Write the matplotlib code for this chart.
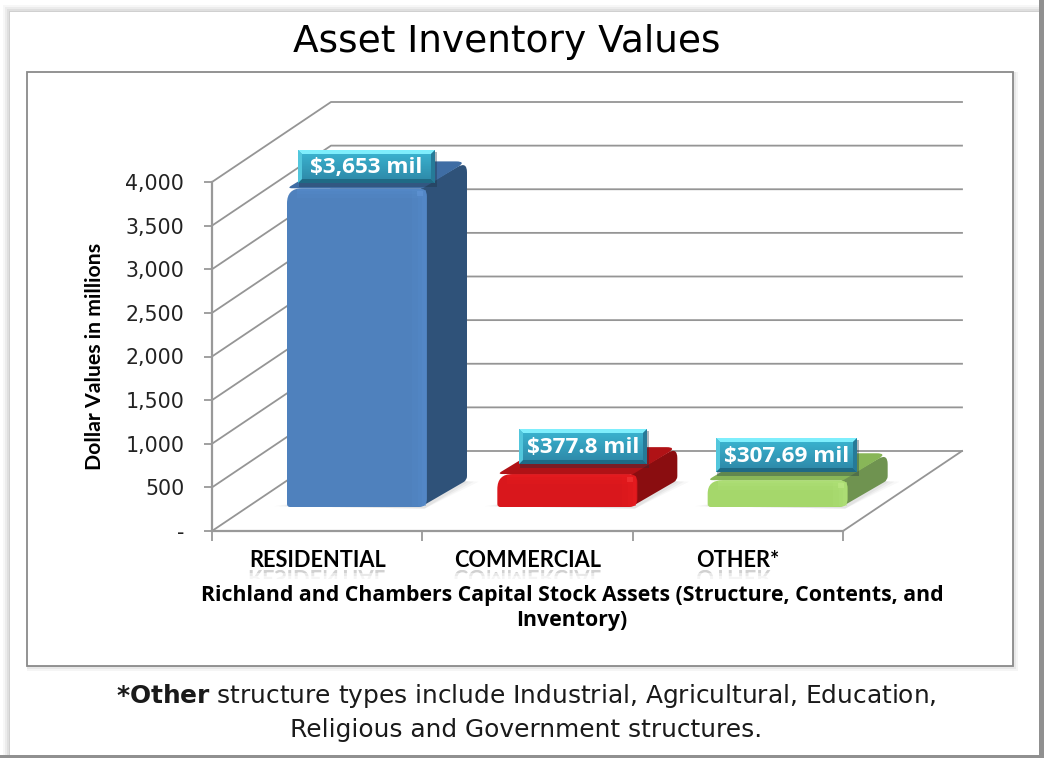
import matplotlib
matplotlib.use("Agg")
import matplotlib.pyplot as plt
import numpy as np
from matplotlib.patches import Polygon, Rectangle, PathPatch
from matplotlib.path import Path
from matplotlib.textpath import TextPath
from matplotlib.font_manager import FontProperties
from matplotlib.transforms import Affine2D

categories = ["RESIDENTIAL", "COMMERCIAL", "OTHER*"]
values = [3653, 377.8, 307.69]
value_labels = ["$3,653 mil", "$377.8 mil", "$307.69 mil"]
y_ticks = [0, 500, 1000, 1500, 2000, 2500, 3000, 3500, 4000]
y_tick_labels = ["-", "500", "1,000", "1,500", "2,000", "2,500", "3,000", "3,500", "4,000"]

front_colors = ["#4f81bd", "#d9171c", "#a5d76b"]
top_colors = ["#3f6da4", "#b01216", "#88b658"]
side_colors = ["#2f5279", "#8a0d10", "#6f9350"]
edge_colors = ["#5a90d0", "#f01e22", "#b6e67e"]
corner_colors = ["#6a9fe0", "#ff4a4a", "#c8f090"]

W, H = 1044, 758
PX_X = (843 - 212) / 3.0  # pixels per category
PX_Y = (531 - 182) / 4000.0  # pixels per dollar million

fig = plt.figure(figsize=(W / 100, H / 100), dpi=100, facecolor="white")

# overlay in pixels, for the frame
bg = fig.add_axes([0, 0, 1, 1])
bg.set_xlim(0, W)
bg.set_ylim(H, 0)
bg.axis("off")
for k, a in zip([7, 5, 3, 1], [0.05, 0.07, 0.09, 0.12]):
    bg.add_patch(Rectangle((10 - k, 12 - k), 1030 + k, 744 + k, color="#666666", alpha=a, lw=0))
bg.add_patch(Rectangle((10, 12), 1030, 744, color="white", lw=0))
bg.add_patch(Rectangle((1039, 0), 5, H, color="#909090", lw=0))
bg.add_patch(Rectangle((0, 755), 1044, 3, color="#909090", lw=0))
for k, a in zip([5, 3, 1], [0.06, 0.08, 0.10]):
    bg.add_patch(Rectangle((27, 72), 986 + k, 594 + k, color="#555555", alpha=a, lw=0))
bg.add_patch(Rectangle((27, 72), 986, 594, facecolor="white", edgecolor="#8a8a8a", lw=1.3))

# main axes is the front plane of the 3d box
ax = fig.add_axes([212 / W, 1 - 531 / H, (843 - 212) / W, (531 - 182) / H])
ax.patch.set_alpha(0)
ax.set_xlim(0, 3)
ax.set_ylim(0, 4000)
for s in ["top", "right"]:
    ax.spines[s].set_visible(False)
for s in ["left", "bottom"]:
    ax.spines[s].set_color("#999999")
    ax.spines[s].set_linewidth(1.6)

DX = 119 / PX_X  # depth offset, category units
DY = 80 / PX_Y  # depth offset, value units


def prj(x, y, d):
    return (x + d * DX, y + d * DY)


def round_poly(points, radii):
    # closed polygon in data units with corners rounded by a radius in pixels
    pts = np.array(points, dtype=float) * [PX_X, PX_Y]
    verts = []
    codes = []
    n = len(pts)
    for i in range(n):
        p = pts[i]
        a = pts[i - 1] - p
        b = pts[(i + 1) % n] - p
        r = radii[i]
        p0 = p + a / np.hypot(*a) * min(r, np.hypot(*a) / 2)
        p1 = p + b / np.hypot(*b) * min(r, np.hypot(*b) / 2)
        verts.append(p0)
        codes.append(Path.MOVETO if i == 0 else Path.LINETO)
        verts.append(p)
        codes.append(Path.CURVE3)
        verts.append(p1)
        codes.append(Path.CURVE3)
    verts.append(verts[0])
    codes.append(Path.CLOSEPOLY)
    return Path(np.array(verts) / [PX_X, PX_Y], codes)


# walls
for t in y_ticks:
    p0 = prj(0, t, 0)
    p1 = prj(0, t, 1)
    p2 = prj(3, t, 1)
    ax.plot([p0[0], p1[0], p2[0]], [p0[1], p1[1], p2[1]], color="#959595", lw=1.3, clip_on=False, zorder=1)
fl = prj(3, 0, 0)
fr = prj(3, 0, 1)
ax.plot([fl[0], fr[0]], [fl[1], fr[1]], color="#959595", lw=1.3, clip_on=False, zorder=1)

BAR_W = 140 / PX_X
D0 = 24 / 80.0
D1 = D0 + 40 / 119.0

for i, v in enumerate(values):
    x0 = i + 75 / PX_X - D0 * DX
    x1 = x0 + BAR_W
    fx, fy = prj(x0, 0, D0)
    # soft shadow on the floor
    for k, a in zip([14, 9, 4], [0.05, 0.07, 0.09]):
        sh = [prj(x0 - k / PX_X, 0, D0 + 0.01), prj(x1, 0, D0 - 0.02), prj(x1 + k / PX_X, 0, D1 - 0.02), prj(x1 - 0.1, 0, D1)]
        ax.add_patch(Polygon(sh, closed=True, facecolor="#777777", alpha=a, lw=0, clip_on=False, zorder=2))
    # side
    side = [prj(x1 - 0.03, 0, D0), prj(x1, 0, D1), prj(x1, v, D1), prj(x1 - 0.03, v, D0)]
    ax.add_patch(PathPatch(round_poly(side, [3, 4, 11, 1]), facecolor=side_colors[i], lw=0, clip_on=False, zorder=3))
    # top
    top = [prj(x0, v, D0), prj(x1 - 0.02, v, D0), prj(x1, v, D1), prj(x0 + 0.02, v, D1)]
    ax.add_patch(PathPatch(round_poly(top, [5, 1, 11, 8]), facecolor=top_colors[i], lw=0, clip_on=False, zorder=3))
    # front
    tx = fx + BAR_W
    ty = fy + v
    front = [(fx, fy), (tx, fy), (tx, ty), (fx, ty)]
    ax.add_patch(PathPatch(round_poly(front, [3, 8, 8, 15]), facecolor=front_colors[i], lw=0, clip_on=False, zorder=4))
    # bevels of the front, right edge, top edge and the corner
    band = 15 / PX_X
    bev = 10 / PX_Y
    for k, a in zip([1.0, 0.6, 0.3], [0.16, 0.2, 0.25]):
        ax.add_patch(Rectangle((tx - band * k, fy + 1 / PX_Y), band * k - 1 / PX_X, v - 3 / PX_Y, facecolor=edge_colors[i], alpha=a, lw=0, clip_on=False, zorder=5))
    for k, a in zip([1.0, 0.6, 0.3], [0.16, 0.2, 0.25]):
        ax.add_patch(Rectangle((fx + 10 / PX_X, ty - bev * k), BAR_W - 15 / PX_X, bev * k - 1 / PX_Y, facecolor=edge_colors[i], alpha=a, lw=0, clip_on=False, zorder=5))
    ax.add_patch(Rectangle((tx - 10 / PX_X, ty - 8 / PX_Y), 6 / PX_X, 5 / PX_Y, facecolor=corner_colors[i], alpha=0.4, lw=0, clip_on=False, zorder=5))

ax.set_yticks(y_ticks)
ax.set_yticklabels(y_tick_labels, fontsize=14.8, family="DejaVu Sans", color="#222222")
ax.set_xticks([0, 1, 2, 3])
ax.set_xticklabels([])
ax.set_xticks([0.5, 1.5, 2.5], minor=True)
ax.set_xticklabels(categories, minor=True, fontsize=15.7, family="Lato", fontweight="bold", color="black")
ax.tick_params(axis="x", which="major", length=7, color="#999999", width=1.3)
ax.tick_params(axis="x", which="minor", length=0, pad=14)
ax.tick_params(axis="y", length=6, color="#999999", width=1.3, pad=14)
ax.set_ylabel("Dollar Values in millions", fontsize=15.3, family="Lato", fontweight="bold")
ax.yaxis.set_label_coords((105 - 212) / 631.0, (531 - 356) / 349.0)

# overlay for callouts and the mirror under the category names
top_ax = fig.add_axes([0, 0, 1, 1])
top_ax.patch.set_alpha(0)
top_ax.axis("off")

label_boxes = [(298, 150, 137, 33), (519, 429, 128, 35), (716, 438, 141, 34)]
c0 = np.array([0x3b, 0xb6, 0xd2]) / 255.0
c1 = np.array([0x2d, 0x86, 0xa6]) / 255.0
grad = np.linspace(0, 1, 40).reshape(-1, 1, 1)
img = c0[None, None, :] * (1 - grad) + c1[None, None, :] * grad
for (x, y, w, h), s in zip(label_boxes, value_labels):
    top_ax.add_patch(Rectangle((x + 1, y + 2), w + 1, h + 2, color="#1a3040", alpha=0.35, lw=0, zorder=0))
    top_ax.imshow(img, extent=(x, x + w, y + h, y), aspect="auto", zorder=1)
    b = 4
    top_ax.add_patch(Polygon([(x, y), (x + w, y), (x + w - b, y + b), (x + b, y + b)], color="#7eeefc", lw=0, zorder=2))
    top_ax.add_patch(Polygon([(x, y + h), (x + w, y + h), (x + w - b, y + h - b), (x + b, y + h - b)], color="#1f6a85", lw=0, zorder=2))
    top_ax.add_patch(Polygon([(x, y), (x + b, y + b), (x + b, y + h - b), (x, y + h)], color="#52c6dc", lw=0, zorder=2))
    top_ax.add_patch(Polygon([(x + w, y), (x + w - b, y + b), (x + w - b, y + h - b), (x + w, y + h)], color="#267a98", lw=0, zorder=2))
    top_ax.text(x + w / 2.0, y + h / 2.0 + 1, s, ha="center", va="center", color="white", fontsize=16.2, family="Open Sans", fontweight="bold", zorder=3)

# faint mirror of the category names
fp = FontProperties(family="Lato", weight="bold")
for i, name in enumerate(categories):
    tp = TextPath((0, 0), name, size=15.7 * 100 / 72.0, prop=fp)
    ext = tp.get_extents()
    cx = 212 + (i + 0.5) * PX_X - (ext.x0 + ext.x1) / 2.0
    trans = Affine2D().translate(cx, 570) + top_ax.transData
    for y0, y1, a in [(570, 573, 0.18), (573, 576, 0.09), (576, 579, 0.04)]:
        patch = PathPatch(tp, facecolor="black", lw=0, alpha=a, transform=trans)
        top_ax.add_patch(patch)
        clip = Rectangle((cx - 5, y0), ext.width + 20, y1 - y0, transform=top_ax.transData)
        patch.set_clip_path(clip)

top_ax.set_xlim(0, W)
top_ax.set_ylim(H, 0)

fig.text(507 / W, 1 - 52 / H, "Asset Inventory Values", ha="center", va="baseline", fontsize=27, family="DejaVu Sans")
fig.text(572 / W, 1 - 608 / H, "Richland and Chambers Capital Stock Assets (Structure, Contents, and\nInventory)",
         ha="center", va="center", fontsize=15.3, family="Open Sans", fontweight="bold", linespacing=1.28)
fig.text(526 / W, 1 - 703 / H, r"$\bf{*Other}$ structure types include Industrial, Agricultural, Education,",
         ha="center", va="baseline", fontsize=17.9, family="DejaVu Sans", color="#1a1a1a")
fig.text(526 / W, 1 - 737 / H, "Religious and Government structures.", ha="center", va="baseline", fontsize=17.9, family="DejaVu Sans", color="#1a1a1a")

fig.savefig("out.png", dpi=100)
